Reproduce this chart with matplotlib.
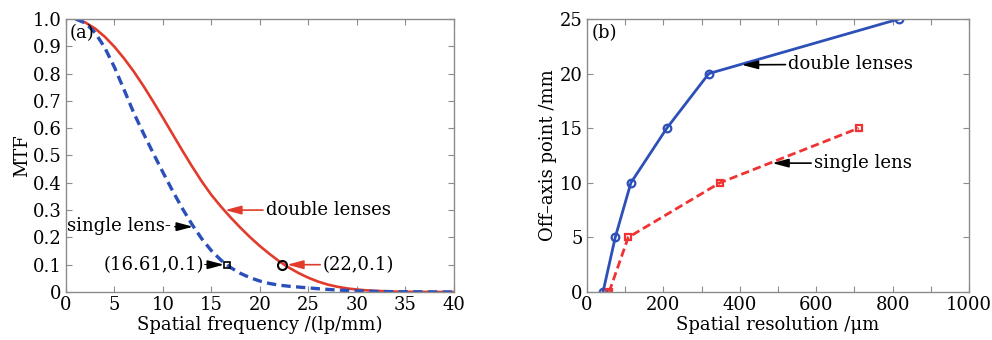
import matplotlib
matplotlib.use("Agg")
import matplotlib.pyplot as plt
from matplotlib.ticker import MultipleLocator

plt.rcParams['font.family'] = ['DejaVu Serif']
plt.rcParams['mathtext.fontset'] = 'dejavuserif'

# (a) MTF curves
freq_double = [1, 2, 3, 4, 5, 6, 7, 8, 9, 10, 11, 12, 13, 14, 15, 16, 17, 18, 19, 20,
               21, 22, 23, 24, 25, 26, 27, 28, 29, 30, 31, 32, 34, 36, 40]
mtf_double = [1.0, 0.987, 0.965, 0.935, 0.898, 0.855, 0.807, 0.754, 0.697, 0.638, 0.578,
              0.518, 0.46, 0.405, 0.355, 0.312, 0.272, 0.235, 0.2, 0.168, 0.139, 0.112,
              0.089, 0.069, 0.052, 0.038, 0.027, 0.019, 0.013, 0.009, 0.006, 0.004, 0.0015,
              0.0005, 0.0]
freq_single = [1, 2, 3, 4, 5, 6, 7, 8, 9, 10, 11, 12, 13, 14, 15, 16, 17, 18, 19, 20,
               21, 22, 23, 24, 25, 26, 28, 30, 32, 34, 40]
mtf_single = [1.0, 0.985, 0.95, 0.895, 0.823, 0.74, 0.655, 0.58, 0.508, 0.438, 0.37, 0.306,
              0.247, 0.195, 0.151, 0.116, 0.089, 0.068, 0.052, 0.04, 0.031, 0.025, 0.021,
              0.018, 0.015, 0.012, 0.007, 0.004, 0.002, 0.001, 0.0]
cut_single = (16.61, 0.1)
cut_double = (22.3, 0.1)

# (b) off-axis point vs spatial resolution
res_double = [42, 74, 115, 209, 319, 817]
off_double = [0, 5, 10, 15, 20, 25]
res_single = [58, 108, 348, 711]
off_single = [0, 5, 10, 15]

RED = '#e23b2b'
BLUE = '#2a4fba'
GRAY = '#8c8c8c'
FS = 13


def style_axes(ax):
    for s in ax.spines.values():
        s.set_color(GRAY)
        s.set_linewidth(1.0)
    ax.tick_params(which='both', direction='in', top=True, right=True, color=GRAY,
                   length=4, width=0.8, labelsize=FS, labelcolor='black', pad=3)


fig = plt.figure(figsize=(9.92, 3.4), dpi=100)

# ---- panel (a)
ax1 = fig.add_axes([0.0665, 0.1412, 0.3911, 0.803])
ax1.plot(freq_double, mtf_double, color=RED, lw=1.9)
ax1.plot(freq_single, mtf_single, color=BLUE, lw=2.4, ls=(0, (2.8, 1.6)))
ax1.plot(*cut_single, marker='s', ms=5, mfc='none', mec='black', mew=1.2)
ax1.plot(*cut_double, marker='o', ms=6.5, mfc='none', mec='black', mew=1.5)
ax1.set_xlim(0, 40)
ax1.set_ylim(0, 1.0)
ax1.xaxis.set_major_locator(MultipleLocator(5))
ax1.set_yticks([i / 10 for i in range(11)])
ax1.set_yticklabels(['0'] + ['%.1f' % (i / 10) for i in range(1, 11)])
style_axes(ax1)
ax1.set_xlabel('Spatial frequency /(lp/mm)', fontsize=FS, labelpad=1)
ax1.set_ylabel('MTF', fontsize=FS, labelpad=1)
ax1.text(0.4, 0.95, '(a)', fontsize=FS, va='center', ha='left')

arr = dict(arrowstyle='-|>,head_length=0.75,head_width=0.2', lw=1.2, shrinkA=1, shrinkB=0)
ax1.annotate('double lenses', xy=(16.4, 0.30), xytext=(20.6, 0.30), fontsize=FS,
             va='center', ha='left', arrowprops=dict(arr, color=RED, shrinkA=0))
ax1.annotate('single lens-', xy=(13.1, 0.239), xytext=(0.1, 0.24), fontsize=FS,
             va='center', ha='left', arrowprops=dict(arr, color='black'))
ax1.annotate('(16.61,0.1)-', xy=(16.3, 0.1), xytext=(3.9, 0.1), fontsize=FS,
             va='center', ha='left', arrowprops=dict(arr, color='black'))
ax1.annotate('(22,0.1)', xy=(22.8, 0.1), xytext=(26.5, 0.1), fontsize=FS,
             va='center', ha='left', arrowprops=dict(arr, color=RED, shrinkA=0))

# ---- panel (b)
ax2 = fig.add_axes([0.5917, 0.1412, 0.3851, 0.803])
ax2.plot(res_double, off_double, color='#2d4fb8', lw=2.0, marker='o', ms=5.5,
         mfc='none', mew=1.6)
ax2.plot(res_single, off_single, color='#f03232', lw=2.0, ls=(0, (3, 1.5)), marker='s',
         ms=5, mfc='none', mew=1.6)
ax2.set_xlim(0, 1000)
ax2.set_ylim(0, 25)
ax2.xaxis.set_major_locator(MultipleLocator(200))
ax2.xaxis.set_minor_locator(MultipleLocator(100))
ax2.yaxis.set_major_locator(MultipleLocator(5))
style_axes(ax2)
ax2.set_xlabel('Spatial resolution /\u03bcm', fontsize=FS, labelpad=1)
ax2.set_ylabel('Off\u2013axis point /mm', fontsize=FS, labelpad=2)
ax2.text(12, 23.7, '(b)', fontsize=FS, va='center', ha='left')
ax2.annotate('double lenses', xy=(405, 20.8), xytext=(527, 20.85), fontsize=FS,
             va='center', ha='left', arrowprops=dict(arr, color='black', shrinkA=0))
ax2.annotate('single lens', xy=(485, 11.8), xytext=(594, 11.8), fontsize=FS,
             va='center', ha='left', arrowprops=dict(arr, color='black', shrinkA=0))

fig.savefig('out.png', dpi=100)
